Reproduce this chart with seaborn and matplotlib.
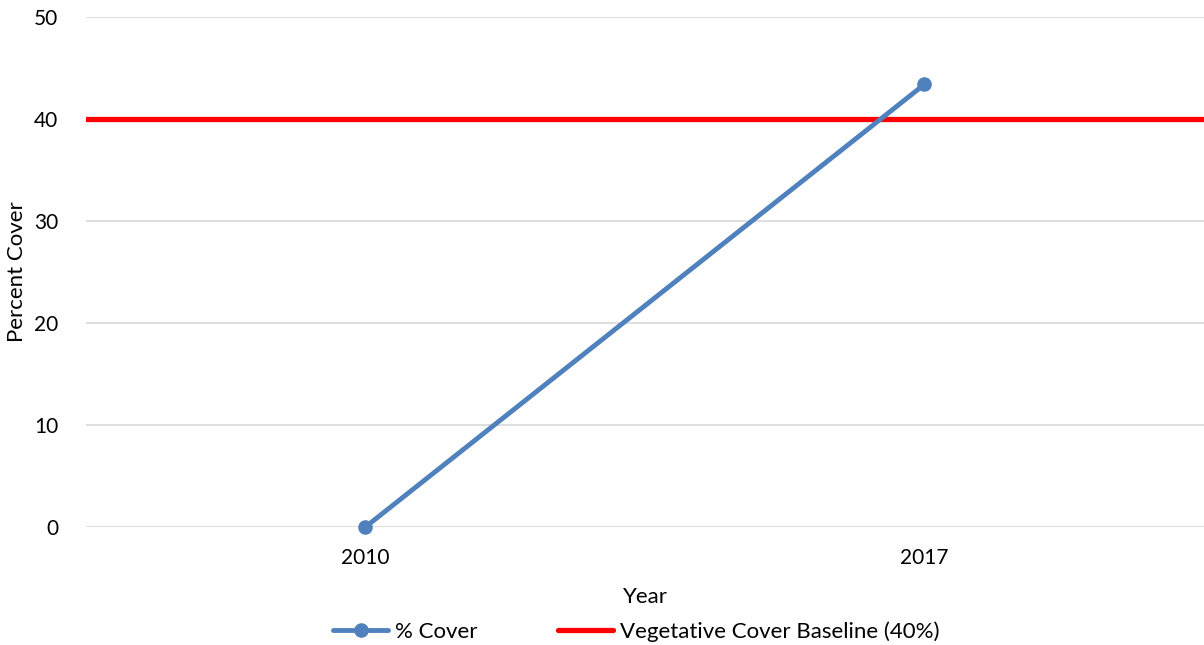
import matplotlib
matplotlib.use("Agg")
import matplotlib.pyplot as plt
import seaborn as sns
import pandas as pd

years = ["2010", "2017"]
percent_cover = [0.0, 43.4]
baseline_value = 40
y_ticks = [0, 10, 20, 30, 40, 50]

sns.set_theme(style="white")
plt.rcParams["font.family"] = ["Lato", "DejaVu Sans"]
plt.rcParams["text.color"] = "black"
plt.rcParams["axes.labelcolor"] = "black"
plt.rcParams["xtick.color"] = "black"
plt.rcParams["ytick.color"] = "black"

df = pd.DataFrame({"Year": years, "Cover": percent_cover})
df["pos"] = range(len(years))

fig = plt.figure(figsize=(12.04, 6.45), dpi=100)
ax = fig.add_axes([0.0714, 0.183, 0.9286, 0.7906])

for t in y_ticks:
    ax.axhline(t, color="#d9d9d9", lw=1.2, zorder=0)

ax.axhline(baseline_value, color="#ff0000", lw=3.8, zorder=2,
           label="Vegetative Cover Baseline (40%)")
sns.lineplot(data=df, x="pos", y="Cover", ax=ax, color="#4f81bd", lw=3.5,
             marker="o", markersize=10.5, markeredgewidth=0, zorder=3,
             label="% Cover", clip_on=False)

ax.set_xlim(-0.5, len(years) - 0.5)
ax.set_ylim(0, 50)
ax.set_xticks(df["pos"])
ax.set_xticklabels(years)
ax.set_yticks(y_ticks)
ax.tick_params(axis="x", labelsize=15, length=0, pad=15)
ax.tick_params(axis="y", labelsize=15, length=0, pad=20)
for s in ax.spines.values():
    s.set_visible(False)

ax.set_xlabel("Year", fontsize=16, labelpad=14)
ax.set_ylabel("Percent Cover", fontsize=16)
ax.yaxis.set_label_coords(-0.053, 0.5)

handles, labels = ax.get_legend_handles_labels()
order = [labels.index("% Cover"), labels.index("Vegetative Cover Baseline (40%)")]
leg = ax.legend([handles[i] for i in order], [labels[i] for i in order],
                loc="center", bbox_to_anchor=(0.492, -0.205),
                ncol=2, frameon=False, fontsize=16, handlelength=2.5,
                columnspacing=3.6, handletextpad=0.3)

fig.savefig("out.png", dpi=100)
